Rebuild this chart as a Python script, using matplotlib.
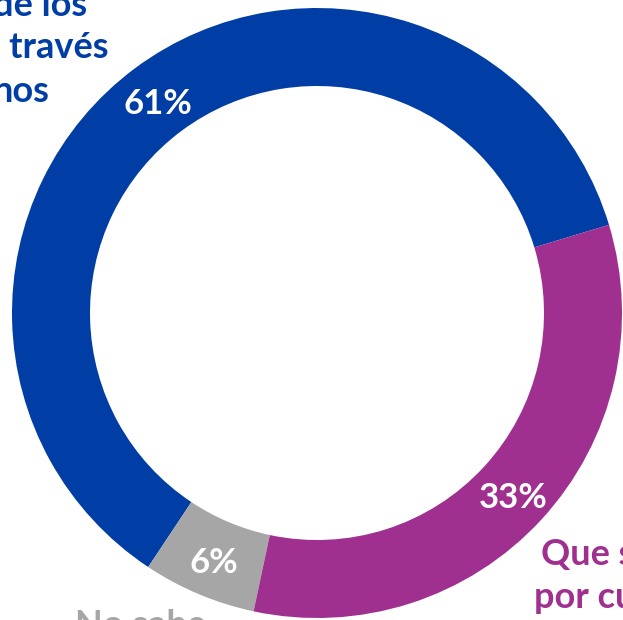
import matplotlib
matplotlib.use("Agg")
import matplotlib.pyplot as plt

plt.rcParams['font.family'] = ['Lato', 'DejaVu Sans']

# datos del gráfico (porcentajes)
valores = [61, 6, 33]
colores = ['#003DA5', '#A6A6A6', '#A03090']

fig = plt.figure(figsize=(6.23, 6.20), dpi=100)
ax = fig.add_axes([0, 0, 1, 1])

# anillo en coordenadas de píxel (y hacia arriba)
wedges, textos, pcts = ax.pie(valores, colors=colores, center=(317, 307), radius=305,
                              startangle=16.8, counterclock=True,
                              autopct='%.0f%%', pctdistance=0.872,
                              wedgeprops=dict(width=78, linewidth=0),
                              textprops=dict(color='white', fontsize=25, fontweight='bold'))
# bajar un poco las etiquetas de porcentaje
for t in pcts:
    x, y = t.get_position()
    t.set_position((x, y - 5))

ax.set_xlim(0, 623)
ax.set_ylim(0, 620)
ax.set_aspect('equal')
ax.axis('off')

# etiquetas de categoría (recortadas por el borde como en el original)
kw = dict(fontsize=26, fontweight='bold', clip_on=False)
ax.text(87, 620 - 16, 'de los', color='#003DA5', ha='right', va='baseline', **kw)
ax.text(108, 620 - 58, 'a través', color='#003DA5', ha='right', va='baseline', **kw)
ax.text(50, 620 - 102, 'nos', color='#003DA5', ha='right', va='baseline', **kw)

ax.text(541, 620 - 565, 'Que se', color='#A03090', ha='left', va='baseline', **kw)
ax.text(534, 620 - 608, 'por cuenta', color='#A03090', ha='left', va='baseline', **kw)

ax.text(75, 620 - 636, 'No sabe', color='#A6A6A6', ha='left', va='baseline', **kw)

fig.savefig('out.png', dpi=100)
